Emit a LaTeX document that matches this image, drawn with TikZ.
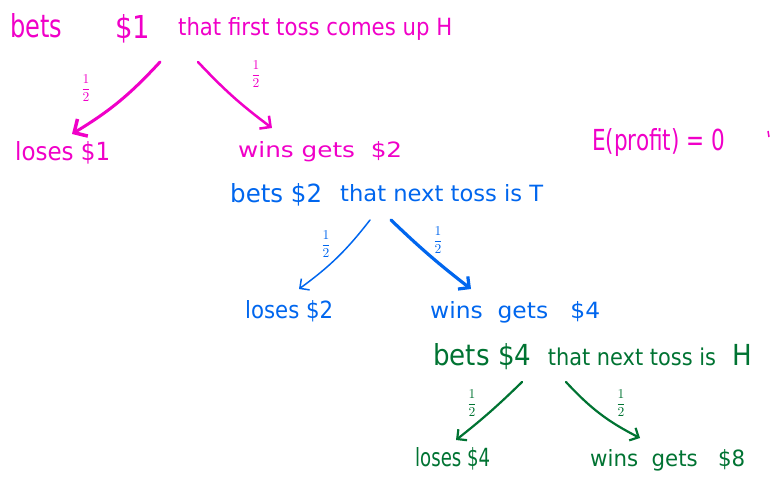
\documentclass[tikz,border=0pt]{standalone}
\usepackage{fontspec}
\setmainfont{DejaVu Sans}
\usetikzlibrary{arrows.meta}
\definecolor{mag}{RGB}{240,0,200}
\definecolor{blu}{RGB}{0,102,238}
\definecolor{grn}{RGB}{0,115,50}
\newcommand{\fitbox}[3]{\resizebox{#1pt}{#2pt}{#3}}
\newcommand{\halffrac}{\resizebox{10pt}{!}{$\displaystyle\frac{1}{2}$}}
\begin{document}
\begin{tikzpicture}[x=1pt,y=-1pt,
  txt/.style={inner sep=0pt,anchor=base west},
  half/.style={inner sep=0pt},
  arr/.style={line width=2.5pt,-{Straight Barb[length=8pt,width=16pt,line width=2.5pt]},line cap=round}]
\useasboundingbox (0,0) rectangle (771,483);
% magenta level
\begin{scope}[mag]
\node[txt] (b1) at (10,37) {\fitbox{52}{24}{bets}};
\node[txt] (d1) at (115,38) {\fitbox{35}{24}{\$1}};
\node[txt] (t1) at (178,35) {\fitbox{274}{18}{that first toss comes up H}};
\node[txt] (lo1) at (15,160) {\fitbox{95}{19}{loses \$1}};
\node[txt] (w1) at (238,157) {\fitbox{164}{16}{wins gets \ \$2}};
\node[txt] (ep) at (592,150) {\fitbox{133}{22}{E(profit) = 0}};
\coordinate (l1s) at (160,62);
\coordinate (r1s) at (198,62);
\coordinate (l1e) at (72,134);
\coordinate (r1e) at (272,128);
\draw[arr,line width=3pt,-{Straight Barb[length=10pt,width=20pt,line width=3.5pt]}] (l1s) to[bend left=8] (l1e);
\draw[arr] (r1s) to[bend right=5] (r1e);
\node[half] (h1) at (86,88) {\halffrac};
\node[half] (h2) at (256,74) {\halffrac};
\coordinate (tk1) at (768,131);
\coordinate (tk2) at (769,137);
\draw[line width=1.5pt] (tk1) -- (tk2);
\end{scope}
% blue level
\begin{scope}[blu]
\node[txt] (b2) at (230,202) {\fitbox{92}{19}{bets \$2}};
\node[txt] (t2) at (340,201) {\fitbox{203}{17}{that next toss is T}};
\node[txt] (lo2) at (245,318) {\fitbox{88}{18}{loses \$2}};
\node[txt] (w2) at (430,318) {\fitbox{170}{17}{wins \ gets \ \ \$4}};
\coordinate (l2s) at (370,220);
\coordinate (r2s) at (391,220);
\coordinate (l2e) at (299,289);
\coordinate (r2e) at (471,289);
\draw[arr,line width=1.5pt,-{Straight Barb[length=7pt,width=14pt,line width=1.5pt]}] (l2s) to[bend left=8] (l2e);
\draw[arr,line width=3.2pt,-{Straight Barb[length=8pt,width=16pt,line width=3.2pt]}] (r2s) to[bend right=3] (r2e);
\node[half] (h3) at (326,244) {\halffrac};
\node[half] (h4) at (438,240) {\halffrac};
\end{scope}
% green level
\begin{scope}[grn]
\node[txt] (b3) at (433,365) {\fitbox{319}{22}{bets \$4 \ {\fontsize{8}{8}\selectfont that next toss is} \ H}};
\node[txt] (lo3) at (415,466) {\fitbox{75}{19}{loses \$4}};
\node[txt] (w3) at (590,466) {\fitbox{155}{17}{wins \ gets \ \ \$8}};
\coordinate (l3s) at (522,382);
\coordinate (r3s) at (566,382);
\coordinate (l3e) at (456,440);
\coordinate (r3e) at (640,438);
\draw[arr,line width=2.2pt,-{Straight Barb[length=7pt,width=14pt,line width=2.2pt]}] (l3s) to[bend left=3] (l3e);
\draw[arr,line width=2.2pt,-{Straight Barb[length=7pt,width=14pt,line width=2.2pt]}] (r3s) to[bend right=10] (r3e);
\node[half] (h5) at (472,403) {\halffrac};
\node[half] (h6) at (621,403) {\halffrac};
\end{scope}
\end{tikzpicture}
\end{document}
